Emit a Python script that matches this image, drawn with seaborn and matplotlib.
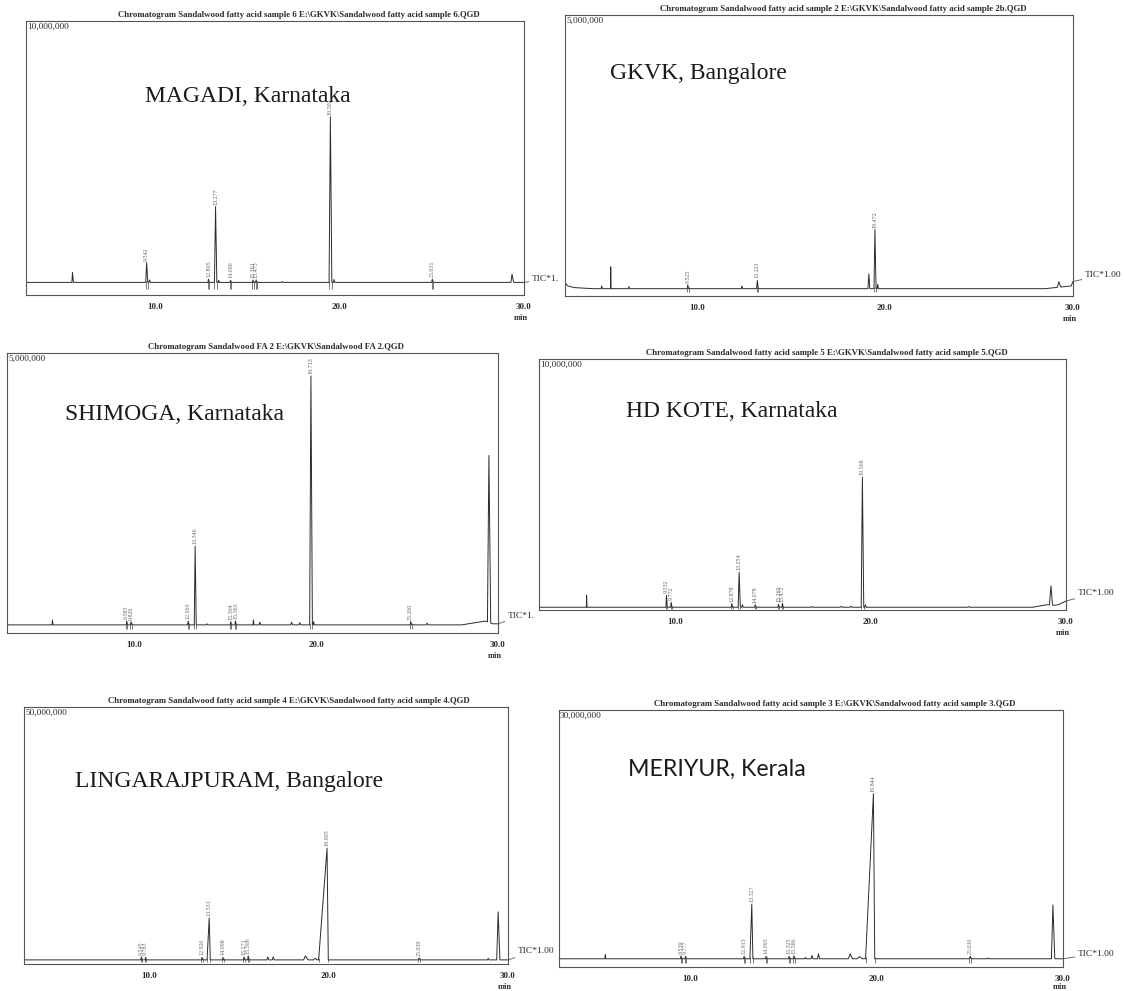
import numpy as np
import matplotlib
matplotlib.use("Agg")
import matplotlib.pyplot as plt
import seaborn as sns

sns.set_style("white")
plt.rcParams["font.family"] = ["Liberation Serif", "DejaVu Serif"]

# ---------------- peak tables (retention time in min, apex counts) ----------------
# MAGADI, Karnataka
magadi_rt = [5.52, 9.542, 9.70, 12.895, 13.277, 13.45, 14.090, 15.301, 15.475, 16.90, 19.502, 19.70, 25.031, 29.35]
magadi_counts = [380000, 760000, 90000, 120000, 2900000, 80000, 80000, 90000, 100000, 30000, 6340000, 110000, 120000, 310000]
magadi_rise = [0.03, 0.05, 0.04, 0.03, 0.06, 0.03, 0.03, 0.03, 0.03, 0.05, 0.07, 0.03, 0.04, 0.06]
magadi_fall = [0.05, 0.06, 0.05, 0.04, 0.07, 0.04, 0.04, 0.04, 0.04, 0.05, 0.08, 0.05, 0.05, 0.09]
magadi_labeled = [False, True, False, True, True, False, True, True, True, False, True, False, True, False]
magadi_drift_t = [3.0, 30.0]
magadi_drift_y = [0, 0]

# GKVK, Bangalore
gkvk_rt = [4.95, 5.43, 6.40, 9.525, 12.40, 13.223, 19.15, 19.472, 19.62, 29.25]
gkvk_counts = [50000, 400000, 40000, 70000, 50000, 150000, 270000, 1080000, 80000, 100000]
gkvk_rise = [0.03, 0.015, 0.03, 0.03, 0.03, 0.04, 0.05, 0.05, 0.03, 0.08]
gkvk_fall = [0.04, 0.02, 0.04, 0.04, 0.04, 0.05, 0.05, 0.06, 0.04, 0.10]
gkvk_labeled = [False, False, False, True, False, True, False, True, False, False]
gkvk_drift_t = [3.0, 3.15, 3.5, 4.5, 28.5, 29.6, 29.9, 30.0]
gkvk_drift_y = [110000, 50000, 20000, 0, 0, 40000, 50000, 130000]

# SHIMOGA, Karnataka
shimoga_rt = [5.50, 9.583, 9.820, 12.960, 13.346, 14.00, 15.304, 15.563, 16.55, 16.90, 18.65, 19.10, 19.713, 19.86, 25.200, 26.10, 29.50]
shimoga_counts = [90000, 70000, 60000, 70000, 1450000, 20000, 60000, 70000, 90000, 50000, 50000, 40000, 4580000, 60000, 60000, 30000, 3070000]
shimoga_rise = [0.02, 0.03, 0.03, 0.03, 0.05, 0.05, 0.03, 0.03, 0.02, 0.04, 0.05, 0.05, 0.07, 0.03, 0.04, 0.06, 0.08]
shimoga_fall = [0.03, 0.04, 0.04, 0.04, 0.06, 0.05, 0.04, 0.04, 0.03, 0.05, 0.05, 0.05, 0.08, 0.04, 0.05, 0.06, 0.10]
shimoga_labeled = [False, True, True, True, True, False, True, True, False, False, False, False, True, False, True, False, False]
shimoga_drift_t = [3.0, 28.0, 29.3, 29.7, 30.0]
shimoga_drift_y = [0, 0, 70000, 20000, 20000]

# HD KOTE, Karnataka
hdkote_rt = [5.44, 9.532, 9.772, 12.878, 13.254, 13.42, 14.078, 15.269, 15.472, 17.00, 18.50, 19.00, 19.568, 19.72, 25.00, 29.23]
hdkote_counts = [480000, 480000, 200000, 150000, 1410000, 100000, 100000, 120000, 150000, 30000, 40000, 40000, 5240000, 100000, 30000, 770000]
hdkote_rise = [0.015, 0.03, 0.03, 0.03, 0.05, 0.03, 0.03, 0.03, 0.03, 0.05, 0.05, 0.05, 0.06, 0.03, 0.05, 0.08]
hdkote_fall = [0.02, 0.04, 0.04, 0.04, 0.06, 0.04, 0.04, 0.04, 0.04, 0.05, 0.05, 0.05, 0.07, 0.04, 0.05, 0.08]
hdkote_labeled = [False, True, True, True, True, False, True, True, True, False, False, False, True, False, False, False]
hdkote_drift_t = [3.0, 28.3, 29.0, 29.45, 29.6, 30.0]
hdkote_drift_y = [0, 0, 100000, 80000, 100000, 250000]

# LINGARAJPURAM, Bangalore
ling_rt = [9.545, 9.783, 12.926, 13.331, 14.098, 15.271, 15.506, 16.60, 16.90, 18.70, 19.25, 19.905, 25.039, 28.90, 29.45]
ling_counts = [600000, 500000, 500000, 8300000, 500000, 600000, 800000, 600000, 600000, 800000, 300000, 22100000, 400000, 300000, 9500000]
ling_rise = [0.03, 0.03, 0.03, 0.12, 0.03, 0.03, 0.03, 0.05, 0.05, 0.10, 0.10, 0.47, 0.04, 0.05, 0.08]
ling_fall = [0.04, 0.04, 0.04, 0.06, 0.04, 0.04, 0.04, 0.06, 0.06, 0.15, 0.10, 0.07, 0.05, 0.05, 0.10]
ling_labeled = [True, True, True, True, True, True, True, False, False, False, False, True, True, False, False]
ling_drift_t = [3.0, 30.0]
ling_drift_y = [0, 0]

# MERIYUR, Kerala
meriyur_rt = [5.48, 9.539, 9.777, 12.915, 13.327, 14.093, 15.325, 15.586, 16.20, 16.55, 16.90, 18.60, 19.10, 19.844, 25.030, 26.00, 29.46]
meriyur_counts = [500000, 350000, 300000, 300000, 6600000, 300000, 300000, 350000, 150000, 400000, 600000, 600000, 250000, 19900000, 300000, 100000, 6500000]
meriyur_rise = [0.02, 0.03, 0.03, 0.03, 0.10, 0.03, 0.03, 0.03, 0.04, 0.05, 0.05, 0.10, 0.15, 0.42, 0.04, 0.05, 0.08]
meriyur_fall = [0.03, 0.04, 0.04, 0.04, 0.06, 0.04, 0.04, 0.04, 0.04, 0.05, 0.06, 0.12, 0.15, 0.07, 0.05, 0.05, 0.10]
meriyur_labeled = [False, True, True, True, True, True, True, True, False, False, False, False, False, True, True, False, False]
meriyur_drift_t = [3.0, 30.0]
meriyur_drift_y = [0, 0]

# ---------------- panel text ----------------
locations = ["MAGADI, Karnataka", "GKVK, Bangalore", "SHIMOGA, Karnataka",
             "HD KOTE, Karnataka", "LINGARAJPURAM, Bangalore", "MERIYUR, Kerala"]
titles = [
    r"Chromatogram Sandalwood fatty acid sample 6 E:\GKVK\Sandalwood fatty acid sample 6.QGD",
    r"Chromatogram Sandalwood fatty acid sample 2 E:\GKVK\Sandalwood fatty acid sample 2b.QGD",
    r"Chromatogram Sandalwood FA 2 E:\GKVK\Sandalwood FA 2.QGD",
    r"Chromatogram Sandalwood fatty acid sample 5 E:\GKVK\Sandalwood fatty acid sample 5.QGD",
    r"Chromatogram Sandalwood fatty acid sample 4 E:\GKVK\Sandalwood fatty acid sample 4.QGD",
    r"Chromatogram Sandalwood fatty acid sample 3 E:\GKVK\Sandalwood fatty acid sample 3.QGD",
]
full_scale = [10000000, 5000000, 5000000, 10000000, 50000000, 30000000]
tic_labels = ["TIC*1.", "TIC*1.00", "TIC*1.", "TIC*1.00", "TIC*1.00", "TIC*1.00"]

samples = [
    (magadi_rt, magadi_counts, magadi_rise, magadi_fall, magadi_labeled, magadi_drift_t, magadi_drift_y),
    (gkvk_rt, gkvk_counts, gkvk_rise, gkvk_fall, gkvk_labeled, gkvk_drift_t, gkvk_drift_y),
    (shimoga_rt, shimoga_counts, shimoga_rise, shimoga_fall, shimoga_labeled, shimoga_drift_t, shimoga_drift_y),
    (hdkote_rt, hdkote_counts, hdkote_rise, hdkote_fall, hdkote_labeled, hdkote_drift_t, hdkote_drift_y),
    (ling_rt, ling_counts, ling_rise, ling_fall, ling_labeled, ling_drift_t, ling_drift_y),
    (meriyur_rt, meriyur_counts, meriyur_rise, meriyur_fall, meriyur_labeled, meriyur_drift_t, meriyur_drift_y),
]

# ---------------- layout (figure pixels) ----------------
W, H = 1125, 991
boxes = [(26, 21, 524, 295), (565, 15, 1073, 296), (7, 353, 498, 633),
         (539, 359, 1066, 610), (24, 707, 508, 964), (559, 710, 1063, 967)]
floor_frac = [0.046, 0.026, 0.029, 0.011, 0.016, 0.032]   # space below the baseline
place_xy = [(145, 102), (610, 79), (65, 420), (626, 417), (75, 787), (628, 776)]
tic_offsets = [(8, 3), (12, 7), (10, 8), (12, 8), (10, 9), (15, 5)]
min_offsets = [-19, -19, -19, -19, -19, -16]
T0, T1 = 3.0, 30.0

INK = "#2b2b2b"


def build_trace(rt, counts, rise, fall, drift_t, drift_y):
    """Piecewise-linear chromatogram: triangular peaks on a drifting baseline."""
    rt = np.asarray(rt, float)
    counts = np.asarray(counts, float)
    rise = np.asarray(rise, float)
    fall = np.asarray(fall, float)
    knots = np.concatenate([[T0, T1], rt - rise, rt, rt + fall, drift_t])
    t = np.unique(knots[(knots >= T0) & (knots <= T1)])
    y = np.interp(t, drift_t, drift_y)
    for r, c, a, b in zip(rt, counts, rise, fall):
        left = np.clip(1 - (r - t) / a, 0, 1)
        right = np.clip(1 - (t - r) / b, 0, 1)
        y += c * np.where(t <= r, left, right)
    return t, y


fig = plt.figure(figsize=(W / 100, H / 100), dpi=100)

for i, (rt, counts, rise, fall, labeled, dt, dy) in enumerate(samples):
    l, tp, r, bt = boxes[i]
    ax = fig.add_axes([l / W, 1 - bt / H, (r - l) / W, (bt - tp) / H])
    fs = full_scale[i]
    ylow = -floor_frac[i] * fs / (1 - floor_frac[i])

    t, y = build_trace(rt, counts, rise, fall, dt, dy)
    sns.lineplot(x=t, y=y, ax=ax, color=INK, linewidth=0.7, estimator=None, sort=False)

    # peak annotations and integration marks
    for pr, pc, pa, pb, lab in zip(rt, counts, rise, fall, labeled):
        if not lab:
            continue
        base = np.interp(pr, dt, dy)
        apex = pc + base
        ax.annotate(f"{pr:.3f}", xy=(pr, apex), xytext=(0, 2), textcoords="offset pixels",
                    rotation=90, ha="center", va="bottom", fontsize=4.3, color="#666666")
        ax.vlines([pr - pa, pr + pb], ylow * 0.5, base + fs * 0.006,
                  color="#444444", linewidth=0.5)

    ax.set_xlim(T0, T1)
    ax.set_ylim(ylow, fs)
    ax.set_yticks([])
    ax.set_xticks([5, 10, 15, 20, 25, 30],
                  labels=["", "10.0", "", "20.0", "", "30.0"],
                  fontsize=6.5, fontweight="bold")
    ax.set_xticks(np.arange(4, 30), minor=True)
    ax.tick_params(axis="x", which="major", direction="out", length=3.2, width=0.6,
                   color="#444444", pad=2.5, labelcolor=INK)
    ax.tick_params(axis="x", which="minor", direction="out", length=2.0, width=0.6,
                   color="#444444")
    ax.set_xlabel("")
    ax.set_ylabel("")
    for sp in ax.spines.values():
        sp.set_visible(True)
        sp.set_color("#555555")
        sp.set_linewidth(0.8)

    ax.annotate("min", xy=(T1, 0), xycoords=("data", "axes fraction"), xytext=(-3, min_offsets[i]),
                textcoords="offset pixels", ha="center", va="top", fontsize=6,
                fontweight="bold", color=INK)
    ax.annotate(titles[i], xy=(0.547, 1), xycoords="axes fraction", xytext=(0, 2),
                textcoords="offset pixels", ha="center", va="bottom", fontsize=6.35,
                fontweight="bold", color=INK)
    ax.annotate(f"{fs:,}", xy=(0, 1), xycoords="axes fraction", xytext=(1, -2),
                textcoords="offset pixels", ha="left", va="top", fontsize=6.7, color=INK)

    dxp, dyp = tic_offsets[i]
    ax.annotate(tic_labels[i], xy=(T1, y[-1]), xytext=(dxp, dyp), textcoords="offset pixels",
                ha="left", va="center", fontsize=6.8, color=INK, annotation_clip=False,
                arrowprops=dict(arrowstyle="-", lw=0.6, color="#555555", shrinkA=0, shrinkB=0))

    px, py = place_xy[i]
    family = ["Lato", "DejaVu Sans"] if i == 5 else ["Liberation Serif", "DejaVu Serif"]
    size = 16.7 if i == 5 else 17
    fig.text(px / W, 1 - py / H, locations[i], ha="left", va="baseline",
             fontsize=size, family=family, color="#1a1a1a")

fig.savefig("out.png", dpi=100)
